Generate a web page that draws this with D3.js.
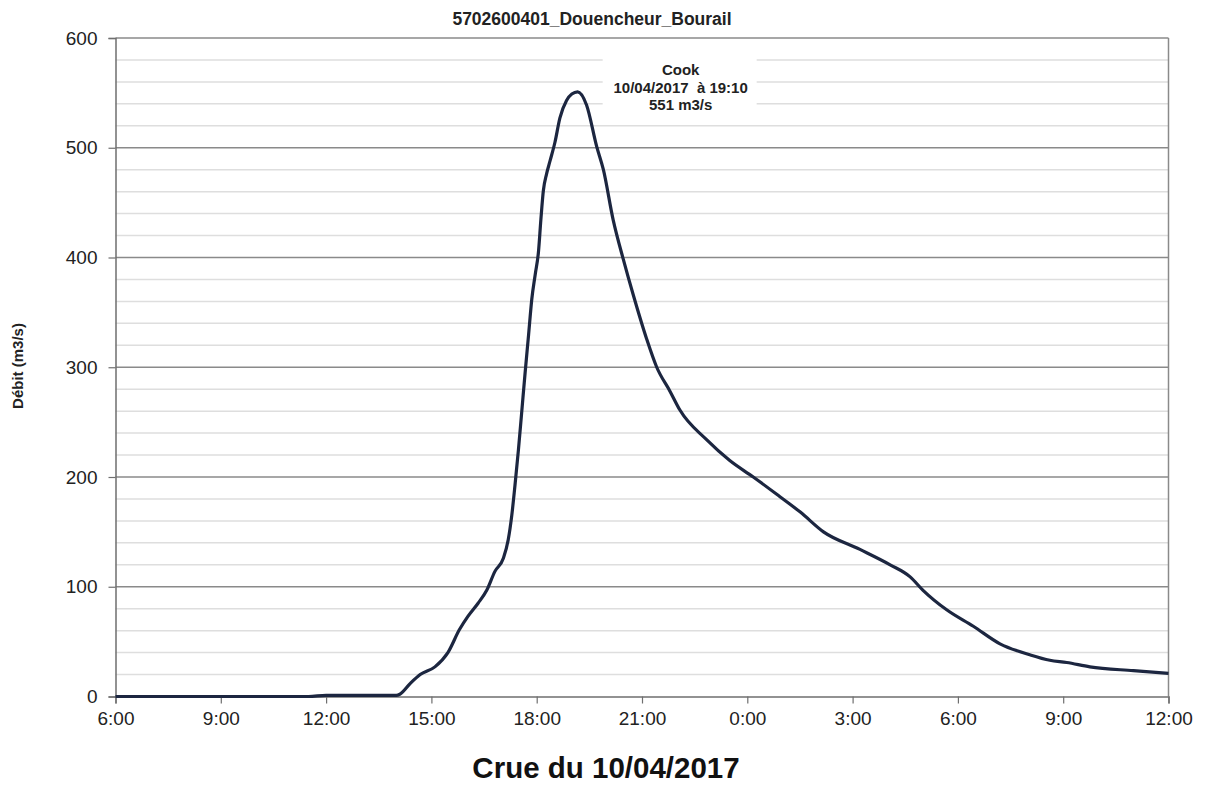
<!DOCTYPE html>
<html>
<head>
<meta charset="utf-8">
<script src="https://cdn.jsdelivr.net/npm/d3@7"></script>
<style>
  html, body { margin: 0; padding: 0; background: #fff; }
  svg { display: block; font-family: "Liberation Sans", Arial, sans-serif; }
</style>
</head>
<body>
<svg id="chart" width="1205" height="785"></svg>
<script>
// Hydrograph: hours counted from 10/04/2017 00:00, discharge in m3/s
const hours = [6.0, 9.0, 11.5, 12.0, 13.0, 14.0, 14.1, 14.4, 14.68, 15.1, 15.47, 15.8, 16.04, 16.33,
  16.58, 16.81, 17.05, 17.19, 17.29, 17.38, 17.48, 17.57, 17.67, 17.77, 17.86, 17.96, 18.05, 18.12,
  18.19, 18.28, 18.38, 18.52, 18.66, 18.85, 19.0, 19.167, 19.42, 19.71, 19.9, 20.18, 20.47, 20.75,
  21.13, 21.42, 21.8, 22.08, 22.84, 23.5, 24.17, 24.93, 25.51, 26.17, 27.21, 28.07, 28.64, 29.0,
  29.68, 30.44, 31.2, 32.05, 32.62, 33.1, 33.76, 35.0, 36.0];
const debit = [0, 0, 0, 1, 1, 1, 2, 12, 20, 27, 40, 61, 73, 85,
  97, 114, 126, 143, 165, 192, 225, 258, 295, 330, 362, 385, 405, 435,
  461, 476, 488, 505, 527, 543, 549, 551, 539, 501, 480, 434, 398, 366,
  326, 300, 278, 261, 234, 215, 200, 182, 168, 150, 134, 120, 109, 97,
  79, 64, 48, 38, 33, 31, 27, 23.5, 21];

const xTicks = [6, 9, 12, 15, 18, 21, 24, 27, 30, 33, 36];
const yTicks = [0, 100, 200, 300, 400, 500, 600];
const yMinor = d3.range(0, 601, 20);

const chartTitle = "5702600401_Douencheur_Bourail";
const yLabel = "Débit (m3/s)";
const footer = "Crue du 10/04/2017";
const peakLines = ["Cook", "10/04/2017  à 19:10", "551 m3/s"];

const svg = d3.select("#chart");
const plotLeft = 115.5, plotRight = 1168.5, plotTop = 38, plotBottom = 696.5;

const x = d3.scaleLinear().domain([6, 36]).range([plotLeft, plotRight]);
const y = d3.scaleLinear().domain([0, 600]).range([plotBottom, plotTop]);

// minor grid
svg.append("g").selectAll("line").data(yMinor.filter(v => v % 100 !== 0)).join("line")
  .attr("x1", plotLeft).attr("x2", plotRight)
  .attr("y1", d => y(d)).attr("y2", d => y(d))
  .attr("stroke", "#dedede").attr("stroke-width", 1.5);

// major grid
svg.append("g").selectAll("line").data(yTicks.filter(v => v > 0)).join("line")
  .attr("x1", plotLeft).attr("x2", plotRight)
  .attr("y1", d => y(d)).attr("y2", d => y(d))
  .attr("stroke", "#8a8a8a").attr("stroke-width", 1.5);

// right border
svg.append("line").attr("x1", plotRight).attr("x2", plotRight).attr("y1", plotTop).attr("y2", plotBottom)
  .attr("stroke", "#8a8a8a").attr("stroke-width", 1.5);

// y axis
const yAxis = svg.append("g").attr("transform", `translate(${plotLeft},0)`)
  .call(d3.axisLeft(y).tickValues(yTicks).tickSize(7).tickPadding(11).tickFormat(d3.format("d")));
yAxis.select(".domain").attr("stroke", "#6f6f6f").attr("stroke-width", 1.5);
yAxis.selectAll(".tick line").attr("stroke", "#6f6f6f").attr("stroke-width", 1.2);
yAxis.selectAll(".tick text").attr("font-size", 19).attr("fill", "#222")
  .attr("font-family", "Liberation Sans, Arial, sans-serif");

// x axis
const xAxis = svg.append("g").attr("transform", `translate(0,${plotBottom})`)
  .call(d3.axisBottom(x).tickValues(xTicks).tickSize(7).tickPadding(8)
    .tickFormat(h => `${h % 24}:00`));
xAxis.select(".domain").attr("stroke", "#6f6f6f").attr("stroke-width", 1.5);
xAxis.selectAll(".tick line").attr("stroke", "#6f6f6f").attr("stroke-width", 1.2);
xAxis.selectAll(".tick text").attr("font-size", 19).attr("fill", "#222")
  .attr("font-family", "Liberation Sans, Arial, sans-serif");

// discharge curve
const series = hours.map((h, i) => ({ h, v: debit[i] }));
svg.append("path").datum(series)
  .attr("fill", "none").attr("stroke", "#1c2640").attr("stroke-width", 3.2)
  .attr("stroke-linejoin", "round")
  .attr("d", d3.line().x(d => x(d.h)).y(d => y(d.v)).curve(d3.curveMonotoneX));

// peak annotation
const peakH = 19.167, peakV = 551;
const ann = svg.append("g").attr("transform", `translate(${x(peakH) + 103},0)`);
ann.append("rect").attr("x", -78).attr("y", 50).attr("width", 154).attr("height", 64).attr("fill", "#fff");
ann.selectAll("text").data(peakLines).join("text")
  .attr("x", 0).attr("y", (d, i) => 75 + i * 17.5)
  .attr("text-anchor", "middle").attr("font-size", 15).attr("font-weight", "bold").attr("fill", "#222")
  .style("white-space", "pre")
  .text(d => d);

// titles
svg.append("text").attr("x", 592).attr("y", 25).attr("text-anchor", "middle")
  .attr("font-size", 17.5).attr("font-weight", "bold").attr("fill", "#222").text(chartTitle);

svg.append("text").attr("transform", "translate(23,366) rotate(-90)").attr("text-anchor", "middle")
  .attr("font-size", 15).attr("font-weight", "bold").attr("fill", "#222").text(yLabel);

svg.append("text").attr("x", 606).attr("y", 778).attr("text-anchor", "middle")
  .attr("font-size", 29.5).attr("font-weight", "bold").attr("fill", "#111").text(footer);
</script>
</body>
</html>
